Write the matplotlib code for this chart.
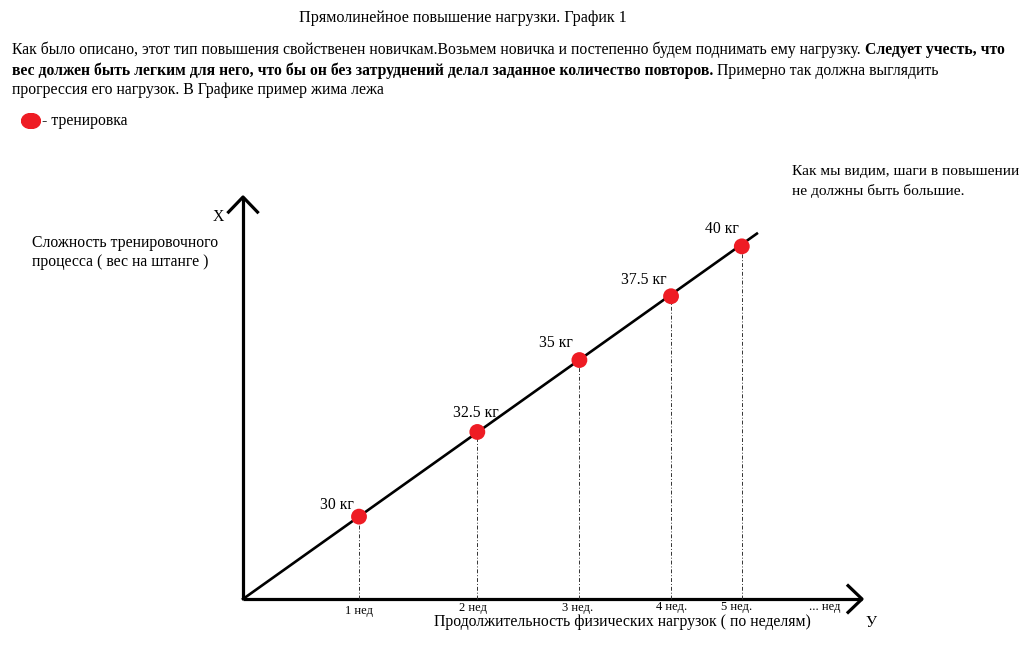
import matplotlib
matplotlib.use("Agg")
import matplotlib.pyplot as plt

# ---- data ----
week_labels = ["1 нед", "2 нед", "3 нед.", "4 нед.", "5 нед."]
week_pos = [1.0, 2.02, 2.90, 3.69, 4.30]          # position along time axis
load_level = [0.71, 1.44, 2.06, 2.61, 3.04]       # height along load axis
weight_labels = ["30 кг", "32.5 кг", "35 кг", "37.5 кг", "40 кг"]
line_end = (4.43, 3.15)

SERIF = ["Liberation Serif", "DejaVu Serif"]
plt.rcParams["font.family"] = SERIF

W, H = 1024, 649
fig = plt.figure(figsize=(W / 100, H / 100), dpi=100)
fig.patch.set_facecolor("white")

U = 116.0  # pixels per unit
OX, OY = 243, 599
ax = fig.add_axes([0, 0, 1, 1])
ax.set_xlim(-OX / U, (W - OX) / U)
ax.set_ylim(-(H - OY) / U, OY / U)
ax.axis("off")


def P(x, y):
    return x / W, 1 - y / H


FS = 11.3

# title
fig.text(*P(463, 18), "Прямолинейное повышение нагрузки. График 1", ha="center", va="center", fontsize=11.6)

# paragraph with bold parts (chained)
renderer = fig.canvas.get_renderer()


def chain(x, y, parts):
    for txt, bold in parts:
        t = fig.text(*P(x, y), txt, ha="left", va="center", fontsize=FS,
                     fontweight="bold" if bold else "normal")
        bb = t.get_window_extent(renderer=renderer)
        x = x + bb.width


chain(12, 50, [("Как было описано, этот тип повышения свойственен новичкам.Возьмем новичка и постепенно будем поднимать ему нагрузку. ", False),
               ("Следует учесть, что", True)])
chain(12, 71, [("вес должен быть легким для него, что бы он без затруднений делал заданное количество повторов.", True),
               (" Примерно так должна выглядить", False)])
chain(12, 90, [("прогрессия его нагрузок. В Графике пример жима лежа", False)])

# legend
fig.text(*P(42, 121), "- тренировка", ha="left", va="center", fontsize=FS)
leg_ax = fig.add_axes([21 / W, 1 - 129 / H, 20 / W, 16 / H])
leg_ax.axis("off")
leg_ax.set_xlim(-1, 1)
leg_ax.set_ylim(-1, 1)
leg_ax.add_patch(matplotlib.patches.Ellipse((0, 0), 1.9, 1.9, color="#ee1c24"))

# right note
fig.text(*P(792, 172), "Как мы видим, шаги в повышении", ha="left", va="center", fontsize=11.1)
fig.text(*P(792, 191), "не должны быть большие.", ha="left", va="center", fontsize=11.1)

# axes lines with chevron arrows
x_end = (862 - OX) / U
y_end = (OY - 197) / U
ax.plot([0, x_end], [0, 0], color="black", lw=2.3, solid_capstyle="butt")
ax.plot([0, 0], [0, y_end], color="black", lw=2.3, solid_capstyle="butt")
ax.plot([x_end - 0.12, x_end, x_end - 0.12], [0.115, 0, -0.115], color="black", lw=2.3)
ax.plot([-0.125, 0, 0.125], [y_end - 0.13, y_end, y_end - 0.13], color="black", lw=2.3)

# progression line
ax.plot([0, line_end[0]], [0, line_end[1]], color="black", lw=1.9)

# dashed verticals
for x, y in zip(week_pos, load_level):
    ax.plot([x, x], [0, y], color="#333333", lw=0.7, ls=(0, (4, 2, 1, 2)))

# points
ax.scatter(week_pos, load_level, s=130, color="#ee1c24", zorder=5, edgecolors="none")

# point labels
offsets = [(-22, 12), (-1, 19), (-23, 17), (-27, 16), (-20, 17)]
for x, y, lab, off in zip(week_pos, load_level, weight_labels, offsets):
    ax.annotate(lab, (x, y), xytext=(off[0] * 0.72, off[1] * 0.72), textcoords="offset points",
                ha="center", va="center", fontsize=FS)

# week labels
week_dy = [12, 9, 9, 8, 8]
week_dx = [0, -4, -2, 1, -5]
for x, lab, dy, dx in zip(week_pos, week_labels, week_dy, week_dx):
    ax.annotate(lab, (x, 0), xytext=(dx * 0.72, -dy * 0.72), textcoords="offset points",
                ha="center", va="center", fontsize=9)
fig.text(*P(825, 607), "... нед", ha="center", va="center", fontsize=9)

# axis titles
fig.text(*P(622, 622), "Продолжительность физических нагрузок ( по неделям)", ha="center", va="center", fontsize=FS)
fig.text(*P(871, 623), "У", ha="center", va="center", fontsize=FS)
fig.text(*P(218, 217), "X", ha="center", va="center", fontsize=FS)
fig.text(*P(32, 243), "Сложность тренировочного", ha="left", va="center", fontsize=FS)
fig.text(*P(32, 262), "процесса ( вес на штанге )", ha="left", va="center", fontsize=FS)

fig.savefig("out.png", dpi=100, facecolor="white")
